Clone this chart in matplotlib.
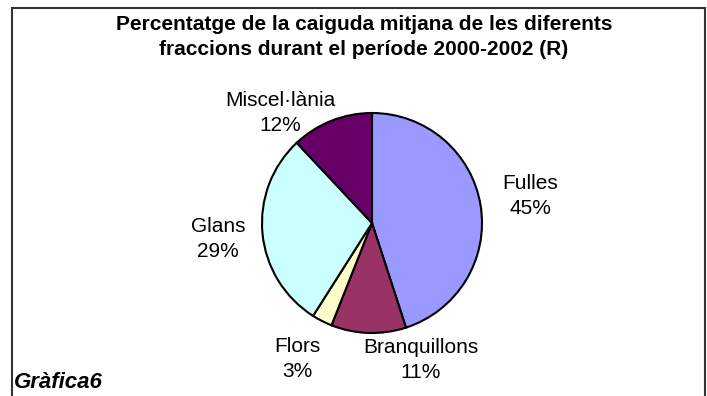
import matplotlib.pyplot as plt
from matplotlib.patches import Rectangle

plt.rcParams['font.family'] = ['Liberation Sans', 'DejaVu Sans']

# Fractions of the mean litterfall, 2000-2002 (R)
fraccions = ['Fulles', 'Branquillons', 'Flors', 'Glans', 'Miscel·lània']
percentatges = [45, 11, 3, 29, 12]
colors = ['#9999FF', '#993366', '#FFFFCC', '#CCFFFF', '#660066']

W, H = 707, 396
cx, cy, r = 372, 223, 110   # pie centre and radius, pixels

# label anchor points (pixels)
label_px = [(530, 196), (421, 360), (297, 359), (218, 239), (280, 113)]

fig = plt.figure(figsize=(W / 100, H / 100), dpi=100)
fig.patch.set_facecolor('white')
ax = fig.add_axes([0, 0, 1, 1])

ax.pie(percentatges, colors=colors, startangle=90, counterclock=False,
       radius=1.0, center=(0, 0),
       wedgeprops=dict(edgecolor='black', linewidth=1.5))
ax.set_aspect('auto')
ax.set_xlim(-cx / r, (W - cx) / r)
ax.set_ylim(-(H - cy) / r, cy / r)
ax.axis('off')

for name, val, (px, py) in zip(fraccions, percentatges, label_px):
    ax.text((px - cx) / r, (cy - py) / r, f'{name}\n{val}%',
            ha='center', va='center', fontsize=15, linespacing=1.45)

# outer chart frame
fig.patches.append(Rectangle((12 / W, -0.05), 693 / W, 1.05 - 8 / H,
                             transform=fig.transFigure, fill=False,
                             edgecolor='#333333', linewidth=1.5))

fig.text(364 / W, 1 - 37 / H,
         'Percentatge de la caiguda mitjana de les diferents\n'
         'fraccions durant el període 2000-2002 (R)',
         ha='center', va='center', fontsize=15, fontweight='bold',
         linespacing=1.45)

fig.text(14 / W, 1 - 382 / H, 'Gràfica6', ha='left', va='center',
         fontsize=16, fontweight='bold', fontstyle='italic')

fig.savefig('out.png', dpi=100)
